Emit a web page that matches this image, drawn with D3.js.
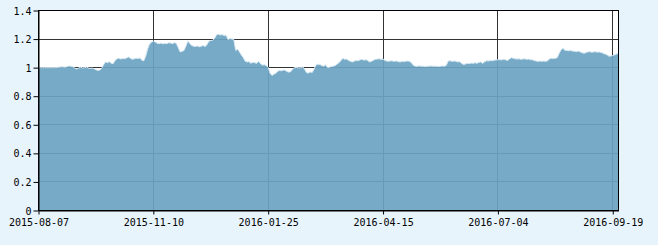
<!DOCTYPE html>
<html>
<head>
<meta charset="utf-8">
<script src="https://cdn.jsdelivr.net/npm/d3@7"></script>
<style>
  html, body { margin: 0; padding: 0; background: #e8f4fc; }
  svg { display: block; }
  .tick text { font-family: "DejaVu Sans Mono", monospace; font-size: 10px; fill: #000; }
</style>
</head>
<body>
<div id="chart"></div>
<script>
// daily net value, one entry per trading day
var values = [
  1.000,1.000,1.000,1.000,1.000,1.000,1.000,1.000,1.000,1.001,
  1.002,1.004,1.006,1.005,1.003,1.008,1.012,1.010,1.006,0.997,
  0.990,0.998,1.003,0.998,1.000,1.004,0.998,0.995,0.997,0.993,
  0.985,0.980,0.983,0.995,1.020,1.040,1.035,1.042,1.030,1.028,
  1.050,1.062,1.066,1.060,1.064,1.062,1.068,1.075,1.066,1.058,
  1.062,1.066,1.064,1.068,1.052,1.048,1.080,1.130,1.165,1.178,
  1.186,1.180,1.170,1.168,1.172,1.166,1.170,1.168,1.174,1.172,
  1.168,1.175,1.170,1.140,1.110,1.115,1.120,1.150,1.186,1.170,
  1.155,1.150,1.148,1.152,1.146,1.150,1.155,1.148,1.160,1.185,
  1.190,1.192,1.205,1.230,1.234,1.228,1.232,1.224,1.228,1.196,
  1.204,1.200,1.198,1.120,1.130,1.110,1.088,1.070,1.045,1.040,
  1.042,1.030,1.038,1.034,1.030,1.045,1.028,1.018,1.020,1.015,
  1.000,0.960,0.945,0.955,0.960,0.975,0.980,0.978,0.984,0.980,
  0.972,0.968,0.975,0.995,1.000,1.002,0.998,1.000,1.006,0.990,
  0.965,0.962,0.970,0.966,0.990,1.020,1.024,1.022,1.015,1.010,
  1.020,1.000,1.003,1.008,1.010,1.015,1.025,1.035,1.050,1.065,
  1.058,1.060,1.050,1.044,1.040,1.046,1.050,1.048,1.055,1.058,
  1.052,1.056,1.050,1.040,1.045,1.052,1.058,1.060,1.062,1.058,
  1.060,1.050,1.046,1.044,1.048,1.046,1.044,1.047,1.042,1.040,
  1.044,1.042,1.046,1.046,1.044,1.030,1.015,1.010,1.010,1.012,
  1.010,1.010,1.008,1.010,1.010,1.012,1.010,1.010,1.010,1.008,
  1.010,1.012,1.010,1.015,1.046,1.048,1.044,1.046,1.045,1.040,
  1.042,1.030,1.022,1.025,1.030,1.028,1.032,1.030,1.034,1.030,
  1.036,1.040,1.030,1.040,1.048,1.046,1.050,1.048,1.052,1.054,
  1.055,1.056,1.054,1.058,1.055,1.050,1.060,1.070,1.066,1.062,
  1.060,1.062,1.058,1.060,1.062,1.058,1.060,1.056,1.055,1.050,
  1.046,1.044,1.046,1.045,1.046,1.044,1.048,1.062,1.065,1.064,
  1.066,1.070,1.100,1.125,1.135,1.122,1.120,1.118,1.120,1.116,
  1.115,1.112,1.116,1.110,1.105,1.100,1.106,1.110,1.112,1.108,
  1.110,1.112,1.108,1.110,1.106,1.100,1.095,1.090,1.080,1.082,
  1.085,1.090,1.095,1.100
];

// x tick labels sit on fixed trading-day positions
var tickIndex = [0, 60, 120, 180, 240, 300];
var tickLabels = ["2015-08-07", "2015-11-10", "2016-01-25", "2016-04-15", "2016-07-04", "2016-09-19"];
var yTicks = [0, 0.2, 0.4, 0.6, 0.8, 1, 1.2, 1.4];

var W = 658, H = 245;
var pLeft = 38.5, pRight = 618.5, pTop = 10.5, pBottom = 210.5;

var svg = d3.select("#chart").append("svg")
    .attr("width", W).attr("height", H);

var x = d3.scaleLinear().domain([0, values.length - 1]).range([pLeft, pRight]);
var y = d3.scaleLinear().domain([0, 1.4]).range([pBottom, pTop]);

svg.append("rect")
   .attr("x", pLeft).attr("y", pTop)
   .attr("width", pRight - pLeft).attr("height", pBottom - pTop)
   .style("fill", "#fff");

// grid first, area goes over it
svg.append("g").selectAll("line").data(yTicks).enter().append("line")
   .attr("x1", pLeft).attr("x2", pRight)
   .attr("y1", function(d){ return Math.floor(y(d)) + 0.5; })
   .attr("y2", function(d){ return Math.floor(y(d)) + 0.5; })
   .style("stroke", "#333").style("stroke-width", 1);

svg.append("g").selectAll("line").data(tickIndex).enter().append("line")
   .attr("x1", function(d){ return Math.floor(x(d)) + 0.5; })
   .attr("x2", function(d){ return Math.floor(x(d)) + 0.5; })
   .attr("y1", pTop).attr("y2", pBottom)
   .style("stroke", "#333").style("stroke-width", 1);

var area = d3.area()
    .x(function(d, i){ return x(i); })
    .y0(y(0))
    .y1(function(d){ return y(d); });

svg.append("path")
   .datum(values)
   .attr("d", area)
   .style("fill", "#6ba3c1")
   .style("fill-opacity", 0.92);

var line = d3.line()
    .x(function(d, i){ return x(i); })
    .y(function(d){ return y(d); });

svg.append("path")
   .datum(values)
   .attr("d", line)
   .style("fill", "none")
   .style("stroke", "#d6e8f2")
   .style("stroke-width", 1);

// frame
svg.append("rect")
   .attr("x", pLeft).attr("y", pTop)
   .attr("width", pRight - pLeft).attr("height", pBottom - pTop)
   .style("fill", "none").style("stroke", "#000").style("stroke-width", 1);

var xAxis = d3.axisBottom(x)
    .tickValues(tickIndex)
    .tickFormat(function(d, i){ return tickLabels[i]; })
    .tickSize(4).tickSizeOuter(0);

var gx = svg.append("g")
   .attr("transform", "translate(0," + pBottom + ")")
   .call(xAxis);
gx.select(".domain").style("stroke", "#000");
gx.selectAll(".tick line").style("stroke", "#000");
gx.selectAll(".tick text").attr("dy", "0.71em").attr("y", 8);

var yAxis = d3.axisLeft(y)
    .tickValues(yTicks)
    .tickFormat(function(d){ return d3.format("")(+d.toFixed(1)); })
    .tickSize(5).tickSizeOuter(0);

var gy = svg.append("g")
   .attr("transform", "translate(" + pLeft + ",0)")
   .call(yAxis);
gy.select(".domain").style("stroke", "#000");
gy.selectAll(".tick line").style("stroke", "#000");
gy.selectAll(".tick text").attr("x", -7).attr("dy", "0.35em");
</script>
</body>
</html>
